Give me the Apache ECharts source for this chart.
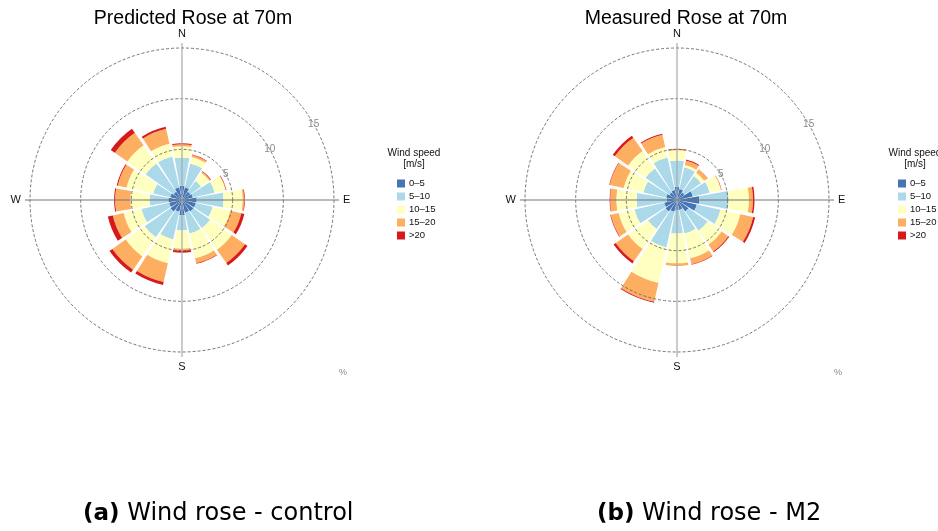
<!DOCTYPE html>
<html><head><meta charset="utf-8">
<script src="https://cdn.jsdelivr.net/npm/echarts@6/dist/echarts.min.js"></script>
<style>html,body{margin:0;padding:0;background:#fff}#c{width:938px;height:531px}</style>
</head><body><div id="c"></div>
<script>
const directions = ['N','NNE','NE','ENE','E','ESE','SE','SSE','S','SSW','SW','WSW','W','WNW','NW','NNW'];
const speedBins = ['0\u20135','5\u201310','10\u201315','15\u201320','>20'];
const binColors = ['#4575b4','#abd9e9','#ffffbf','#fdae61','#d7191c'];
const ringTicks = [0,5,10,15];
const compassAngles = [0,90,180,270];
const compassNames = ['N','E','S','W'];

// Predicted rose (control), frequency % per direction
const predicted0to5   = [1.4,1.3,1.0,1.1,1.45,1.4,1.4,1.3,1.5,1.2,1.4,1.3,1.35,1.2,1.0,1.3];
const predicted5to10  = [2.8,2.4,1.3,2.2,2.65,1.7,2.0,2.1,1.5,2.8,3.1,2.8,1.85,1.7,3.4,3.1];
const predicted10to15 = [1.1,0.65,1.0,1.1,1.9,1.8,2.6,2.5,1.8,2.4,2.3,1.8,1.9,2.7,2.2,1.3];
const predicted15to20 = [0.2,0.2,0.15,0.05,0.15,1.1,1.6,0.5,0.2,1.9,1.6,1.1,1.5,0.9,1.5,1.5];
const predictedOver20 = [0.1,0.05,0.05,0.05,0.05,0.3,0.3,0.05,0.2,0.3,0.35,0.5,0.1,0.1,0.5,0.2];

// Measured rose (M2), frequency % per direction
const measured0to5   = [1.3,1.1,0.9,1.6,2.2,2.0,1.4,1.0,1.0,1.2,1.4,1.3,1.0,1.1,0.9,1.0];
const measured5to10  = [2.6,2.2,2.0,1.7,2.9,2.4,2.3,2.4,2.3,3.6,2.1,3.0,3.0,2.3,2.9,3.3];
const measured10to15 = [1.0,0.25,0.4,1.15,2.0,2.0,1.7,2.5,2.95,3.6,2.4,1.6,2.0,2.0,2.1,1.05];
const measured15to20 = [0.1,0.45,0.4,0.05,0.4,1.3,0.8,0.6,0.25,1.9,1.5,0.8,0.6,1.4,1.6,1.25];
const measuredOver20 = [0.05,0.1,0.02,0.02,0.15,0.2,0.1,0.05,0.02,0.1,0.25,0.05,0.05,0.05,0.25,0.1];

const predictedBins = [predicted0to5,predicted5to10,predicted10to15,predicted15to20,predictedOver20];
const measuredBins  = [measured0to5,measured5to10,measured10to15,measured15to20,measuredOver20];

const FONT = 'Liberation Sans, Arial, sans-serif';
const CAPFONT = 'DejaVu Sans, sans-serif';
const polar = [], angleAxis = [], radiusAxis = [], series = [], legend = [], title = [];

function addRose(cx, cy, bins, heading, headingX, legendX, caption, captionX){
  const p = polar.length;
  // bars
  polar.push({center:[cx,cy], radius:152});
  angleAxis.push({polarIndex:p, type:'category', data:directions, startAngle:90 + 360/directions.length/2,
    clockwise:true, boundaryGap:true, axisLine:{show:false}, axisTick:{show:false}, axisLabel:{show:false}, splitLine:{show:false}});
  radiusAxis.push({polarIndex:p, type:'value', min:0, max:15, axisLine:{show:false}, axisTick:{show:false}, axisLabel:{show:false}, splitLine:{show:false}});
  bins.forEach((arr,i)=>{
    series.push({type:'bar', coordinateSystem:'polar', polarIndex:p, stack:'rose'+p, name:speedBins[i],
      data:arr, barCategoryGap:'12%', itemStyle:{color:binColors[i]}, z:2, silent:true});
  });
  // dashed rings
  polar.push({center:[cx,cy], radius:152});
  angleAxis.push({polarIndex:p+1, type:'value', min:0, max:360, startAngle:30, clockwise:false,
    axisLine:{show:false}, axisTick:{show:false}, axisLabel:{show:false}, splitLine:{show:false}});
  radiusAxis.push({polarIndex:p+1, type:'value', min:ringTicks[0], max:ringTicks[ringTicks.length-1], interval:5, z:5,
    axisLine:{show:false}, axisTick:{show:false},
    axisLabel:{show:true, formatter:v=> v? String(v):'', color:'#8a8a8a', fontSize:10, fontFamily:FONT, margin:0, align:'center', verticalAlign:'middle'},
    splitLine:{show:true, lineStyle:{color:'#666', type:[3,2], width:0.9}}});
  // compass cross
  polar.push({center:[cx,cy], radius:157});
  angleAxis.push({polarIndex:p+2, type:'value', min:0, max:360, interval:90, startAngle:90, clockwise:true, z:6,
    axisLine:{show:false}, axisTick:{show:false},
    axisLabel:{show:true, margin:4, fontSize:11, color:'#111', fontFamily:FONT,
      formatter:v=>{const k=compassAngles.indexOf(v); return k>=0? compassNames[k]:'';}},
    splitLine:{show:true, lineStyle:{color:['#aaa','#777'], width:1.2}}});
  radiusAxis.push({polarIndex:p+2, type:'value', min:0, max:1, axisLine:{show:false}, axisTick:{show:false}, axisLabel:{show:false}, splitLine:{show:false}});

  legend.push({data:speedBins, orient:'vertical', left:legendX, top:178, padding:0, itemWidth:8, itemHeight:8, itemGap:2,
    icon:'rect', selectedMode:false, itemStyle:{borderWidth:0},
    textStyle:{fontSize:9.5, lineHeight:11, fontFamily:FONT, color:'#111', padding:[0,0,0,-1]}});
  title.push({text:heading, left:headingX, textAlign:'center', top:9, padding:0,
    textStyle:{fontSize:19.5, fontWeight:'normal', color:'#000', fontFamily:FONT}});
  title.push({text:'Wind speed\n[m/s]', left:legendX+17, textAlign:'center', top:148, padding:0,
    textStyle:{fontSize:10, lineHeight:11, fontWeight:'normal', color:'#111', fontFamily:FONT}});
  title.push({text:'%', left:cx+161, textAlign:'center', top:368, padding:0,
    textStyle:{fontSize:9, fontWeight:'normal', color:'#888', fontFamily:FONT}});
  title.push({text:caption, left:captionX, top:502, padding:0,
    textStyle:{fontSize:24, fontWeight:'normal', color:'#000', fontFamily:CAPFONT,
      rich:{b:{fontSize:23, fontWeight:'bold', color:'#000', fontFamily:CAPFONT}}}});
}

addRose(182, 200, predictedBins, 'Predicted Rose at 70m', 193, 397, '{b|(a)} Wind rose - control', 83);
addRose(677, 200, measuredBins, 'Measured Rose at 70m', 686, 898, '{b|(b)} Wind rose - M2', 597);

const chart = echarts.init(document.getElementById('c'), null, {renderer:'canvas'});
chart.setOption({animation:false, backgroundColor:'#fff', polar, angleAxis, radiusAxis, series, legend, title});
</script></body></html>
